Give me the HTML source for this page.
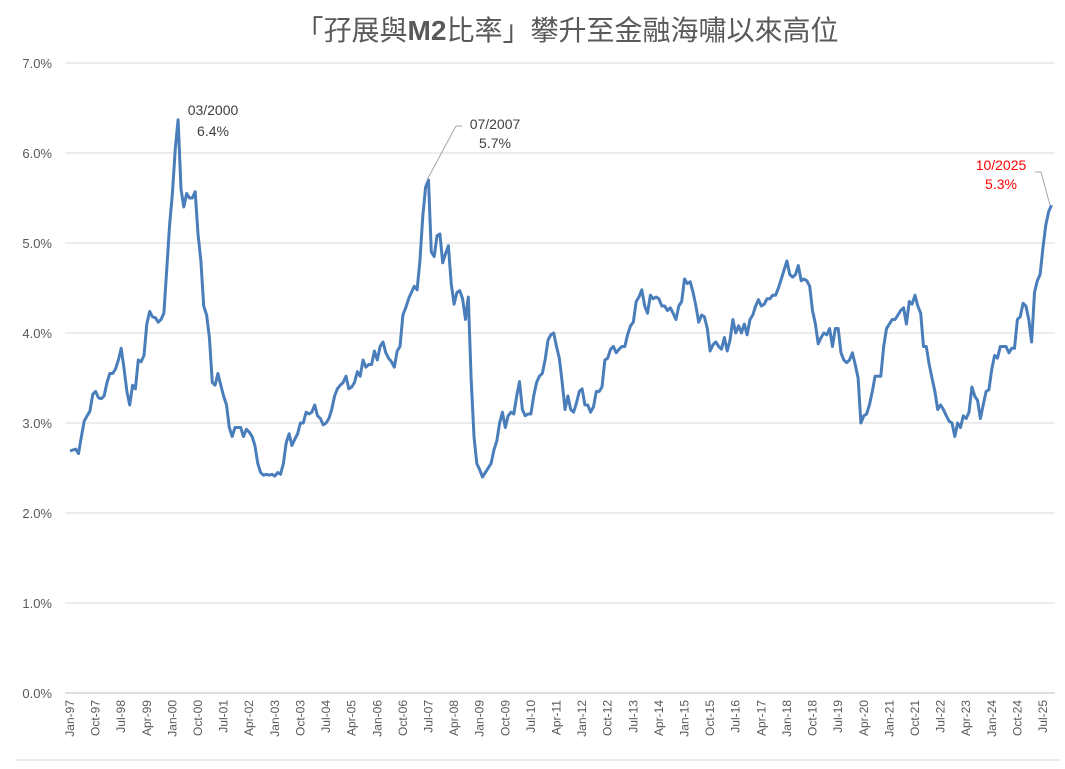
<!DOCTYPE html>
<html><head><meta charset="utf-8">
<style>
body{margin:0;background:#fff;width:1065px;height:764px;overflow:hidden;font-family:"Liberation Sans","Noto Sans CJK TC",sans-serif;}
svg text{font-family:"Liberation Sans","Noto Sans CJK TC",sans-serif;}
</style></head><body>
<svg id="chart" width="1065" height="764" viewBox="0 0 1065 764">
<text x="567" y="40" text-anchor="middle" font-size="28" fill="#595959">「孖展與<tspan font-weight="bold">M2</tspan>比率」攀升至金融海嘯以來高位</text>
<g id="grid"></g>
<g id="yticks"></g>
<g id="xticks"></g>
<path id="line" fill="none" stroke="#4a7ebb" stroke-width="3" stroke-linejoin="round"></path>
<g><text x="213" y="115" text-anchor="middle" font-size="14" fill="#404040">03/2000</text><text x="213" y="136" text-anchor="middle" font-size="14" fill="#404040">6.4%</text></g>
<g><line x1="456" y1="126" x2="427" y2="180" stroke="#a6a6a6"/><line x1="456" y1="126" x2="462" y2="126" stroke="#a6a6a6"/><text x="495" y="129" text-anchor="middle" font-size="14" fill="#404040">07/2007</text><text x="495" y="148" text-anchor="middle" font-size="14" fill="#404040">5.7%</text></g>
<g><line x1="1035" y1="172" x2="1041" y2="172" stroke="#a6a6a6"/><line x1="1041" y1="172" x2="1050" y2="205" stroke="#a6a6a6"/><text x="1001" y="170" text-anchor="middle" font-size="14" fill="#ff0000">10/2025</text><text x="1001" y="189" text-anchor="middle" font-size="14" fill="#ff0000">5.3%</text></g>
<line x1="15" y1="760" x2="1060" y2="760" stroke="#d9d9d9"/>
</svg>
<script>
const startYear = 1997;
const yTicks = [0,1,2,3,4,5,6,7];
const xTickLabels = ["Jan-97","Oct-97","Jul-98","Apr-99","Jan-00","Oct-00","Jul-01","Apr-02","Jan-03","Oct-03","Jul-04","Apr-05","Jan-06","Oct-06","Jul-07","Apr-08","Jan-09","Oct-09","Jul-10","Apr-11","Jan-12","Oct-12","Jul-13","Apr-14","Jan-15","Oct-15","Jul-16","Apr-17","Jan-18","Oct-18","Jul-19","Apr-20","Jan-21","Oct-21","Jul-22","Apr-23","Jan-24","Oct-24","Jul-25"];
const v1997_2002 = [2.69,2.70,2.71,2.66,2.85,3.02,3.08,3.13,3.32,3.35,3.28,3.27,
3.30,3.45,3.55,3.55,3.60,3.70,3.83,3.60,3.35,3.20,3.42,3.38,
3.70,3.68,3.75,4.10,4.24,4.18,4.17,4.12,4.15,4.22,4.70,5.20,
5.55,6.05,6.37,5.60,5.40,5.55,5.50,5.50,5.57,5.10,4.80,4.30,
4.20,3.95,3.45,3.42,3.55,3.42,3.30,3.20,2.95,2.85,2.95,2.95,
2.95,2.85,2.93,2.90,2.85,2.75,2.55,2.45,2.42,2.43,2.42,2.43];
const v2003_2008 = [2.41,2.45,2.43,2.55,2.78,2.88,2.75,2.82,2.88,3.00,3.00,3.12,
3.10,3.12,3.20,3.08,3.05,2.98,3.00,3.05,3.15,3.30,3.38,3.42,
3.45,3.52,3.38,3.40,3.45,3.57,3.52,3.70,3.62,3.65,3.65,3.80,
3.70,3.85,3.90,3.78,3.72,3.68,3.62,3.80,3.85,4.20,4.28,4.38,
4.45,4.52,4.48,4.80,5.30,5.62,5.70,4.90,4.85,5.08,5.10,4.78,
4.88,4.97,4.55,4.32,4.45,4.47,4.38,4.15,4.40,3.50,2.85,2.55];
const v2009_2014 = [2.48,2.40,2.45,2.50,2.55,2.70,2.80,3.00,3.12,2.95,3.08,3.12,
3.10,3.30,3.46,3.15,3.08,3.10,3.10,3.30,3.45,3.52,3.55,3.70,
3.92,3.98,4.00,3.85,3.72,3.45,3.15,3.30,3.15,3.12,3.22,3.35,
3.38,3.20,3.20,3.12,3.18,3.35,3.35,3.40,3.70,3.72,3.82,3.85,
3.78,3.82,3.85,3.85,3.98,4.08,4.12,4.35,4.40,4.48,4.30,4.22,
4.42,4.38,4.40,4.38,4.30,4.30,4.25,4.28,4.22,4.15,4.30,4.35];
const v2015_2020 = [4.60,4.55,4.57,4.45,4.30,4.12,4.20,4.18,4.05,3.80,3.87,3.90,
3.85,3.82,3.95,3.80,3.92,4.15,4.00,4.08,4.00,4.10,3.98,4.15,
4.20,4.30,4.37,4.30,4.32,4.38,4.38,4.42,4.42,4.50,4.60,4.70,
4.80,4.65,4.62,4.65,4.75,4.58,4.60,4.58,4.52,4.25,4.10,3.88,
3.95,4.00,3.98,4.05,3.85,4.05,4.05,3.78,3.70,3.67,3.70,3.78,
3.65,3.50,3.00,3.08,3.10,3.20,3.35,3.52,3.52,3.52,3.85,4.05];
const v2021_2025 = [4.10,4.15,4.15,4.20,4.25,4.28,4.10,4.35,4.32,4.42,4.30,4.22,
3.85,3.85,3.65,3.50,3.35,3.15,3.20,3.15,3.08,3.02,3.00,2.85,
3.00,2.95,3.08,3.05,3.12,3.40,3.30,3.25,3.05,3.20,3.35,3.37,
3.60,3.75,3.72,3.85,3.85,3.85,3.78,3.83,3.83,4.15,4.18,4.33,
4.30,4.15,3.90,4.45,4.58,4.65,4.95,5.20,5.35,5.42];
const values = [].concat(v1997_2002,v2003_2008,v2009_2014,v2015_2020,v2021_2025);

const NS="http://www.w3.org/2000/svg";
const x0=70, pxPerMonth=2.845, yZero=693, pxPerPct=90;
function xScale(m){return x0+m*pxPerMonth;}
function yScale(v){return yZero-v*pxPerPct;}
const grid=document.getElementById('grid'), yt=document.getElementById('yticks'), xt=document.getElementById('xticks');
yTicks.forEach(t=>{
  const l=document.createElementNS(NS,'line');
  l.setAttribute('x1',65);l.setAttribute('x2',1055);
  l.setAttribute('y1',yScale(t));l.setAttribute('y2',yScale(t));
  l.setAttribute('stroke',t===0?'#bfbfbf':'#d9d9d9');
  
  
  grid.appendChild(l);
  const tx=document.createElementNS(NS,'text');
  tx.setAttribute('x',52);tx.setAttribute('y',yScale(t)+5);
  tx.setAttribute('text-anchor','end');tx.setAttribute('font-size','13');tx.setAttribute('fill','#595959');
  tx.textContent=t.toFixed(1)+'%';
  
  
  yt.appendChild(tx);
});
xTickLabels.forEach((lab,i)=>{
  const m=i*9, x=xScale(m);
  const tx=document.createElementNS(NS,'text');
  tx.setAttribute('transform','translate('+(x+4)+',700) rotate(-90)');
  tx.setAttribute('text-anchor','end');tx.setAttribute('font-size','12');tx.setAttribute('fill','#595959');
  tx.textContent=lab;
  
  
  xt.appendChild(tx);
});
document.getElementById('line').setAttribute('d',values.map((v,i)=>(i?'L':'M')+xScale(i).toFixed(1)+' '+yScale(v).toFixed(1)).join(' '));
</script>
</body></html>
